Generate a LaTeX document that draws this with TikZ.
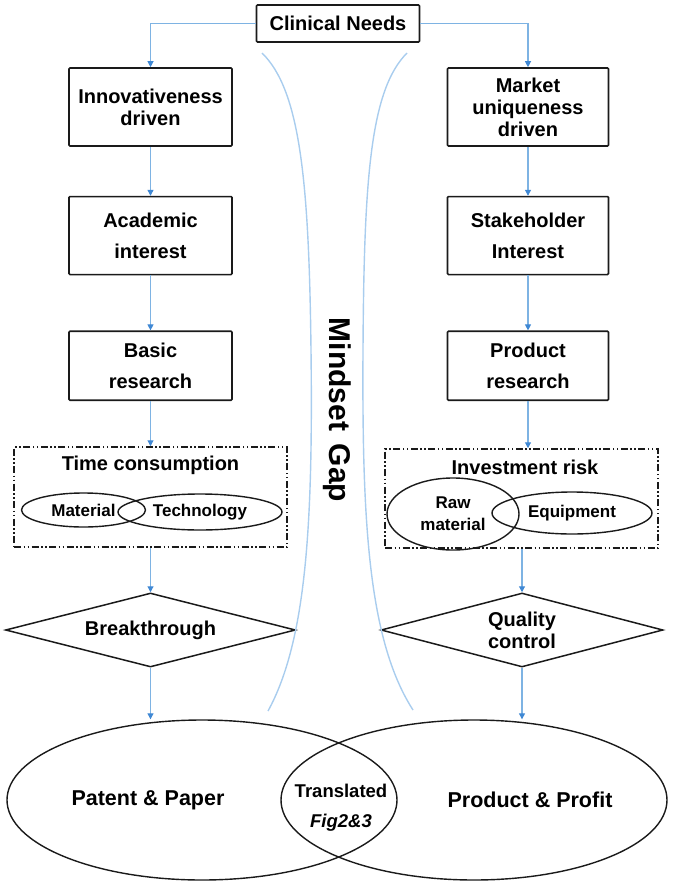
\documentclass[tikz,border=0pt]{standalone}
\usepackage{fontspec}
\setmainfont{Liberation Sans}
\usetikzlibrary{arrows.meta,positioning,shapes.geometric}
\definecolor{flowcol}{HTML}{7EB3E3}
\definecolor{tipcol}{HTML}{3F88D4}
\definecolor{gapcol}{HTML}{A9CDEE}
\definecolor{inkcol}{HTML}{1A1A1A}

\begin{document}
\begin{tikzpicture}[
  x=1pt, y=1pt,
  font=\bfseries\fontsize{20}{22}\selectfont,
  box/.style={draw=inkcol,line width=1.6pt,rounded corners=1pt,
              minimum width=163pt,minimum height=78pt,inner sep=0pt,align=center},
  riskbox/.style={draw=inkcol,line width=1.5pt,
              dash pattern=on 7pt off 2.5pt on 1.5pt off 2.5pt on 1.5pt off 2.5pt,
              minimum width=273pt,minimum height=100pt,inner sep=0pt},
  oval/.style={draw=inkcol,ellipse,line width=1.4pt,inner sep=0pt,align=center,
               font=\bfseries\fontsize{17}{22}\selectfont},
  decision/.style={draw=inkcol,diamond,aspect=4,line width=1.5pt,inner sep=0pt,
               align=center,minimum height=74pt},
  bigoval/.style={draw=inkcol,ellipse,line width=1.4pt,inner sep=0pt,minimum height=160pt},
  bigtxt/.style={font=\bfseries\fontsize{21.5}{24}\selectfont},
  arr/.style={-{Triangle[length=6pt,width=6pt,color=tipcol]},line width=1.1pt,draw=flowcol},
  gap/.style={draw=gapcol,line width=1.4pt},
]
\useasboundingbox (0,0) rectangle (672,-886);

% top
\node[box,minimum height=37pt] (needs) at (338,-23.5) {Clinical Needs};

% academic side
\node[box] (innov) at (150.5,-107) {Innovativeness\\driven};
\node[box,below=49pt of innov] (academic) {Academic\\[9pt]interest};
\node[box,minimum height=69pt,below=55pt of academic] (basic) {Basic\\[9pt]research};
\node[riskbox] (timebox) at (150.5,-497) {};
\node (timelbl) at (150.5,-465) {Time consumption};
\node[oval,minimum width=124pt,minimum height=34pt] (material) at (83.5,-510) {Material};
\node[oval,minimum width=164pt,minimum height=36pt] (technology) at (200,-512) {Technology};
\node[decision,minimum width=290pt] (breakthrough) at (150.5,-630) {Breakthrough};

% industry side
\node[box,minimum width=161pt] (market) at (528,-107) {Market\\uniqueness\\driven};
\node[box,minimum width=161pt,below=49pt of market] (stake) {Stakeholder\\[9pt]Interest};
\node[box,minimum width=161pt,minimum height=69pt,below=55pt of stake] (prodres) {Product\\[9pt]research};
\node[riskbox,minimum height=99pt] (riskbox) at (521.5,-498.5) {};
\node (risklbl) at (525,-467) {Investment risk};
\node[oval,minimum width=132pt,minimum height=72pt] (raw) at (453,-514) {Raw\\material};
\node[oval,minimum width=160pt,minimum height=42pt] (equip) at (572,-513) {Equipment};
\node[decision,minimum width=282pt] (quality) at (522,-630) {Quality\\control};

% outcomes
\node[bigoval,minimum width=390pt] (patent) at (202,-800) {};
\node[bigoval,minimum width=386pt] (product) at (474,-800) {};
\node[bigtxt] (patenttxt) at (148,-800) {Patent \& Paper};
\node[bigtxt] (producttxt) at (530,-800) {Product \& Profit};
\node[align=center,font=\bfseries\fontsize{18.5}{30}\selectfont] (translated) at (341,-808)
  {Translated\\\textit{Fig2\&3}};

% mindset gap
\node[rotate=-90,font=\bfseries\fontsize{30}{30}\selectfont] (gaptxt) at (337,-410)
  {Mindset\hspace{4pt} Gap};
\draw[gap] (262,-53) .. controls (300,-90) and (309,-180) .. (311,-350)
  .. controls (313,-520) and (307,-640) .. (268,-711);
\draw[gap] (407,-53) .. controls (370,-90) and (364,-180) .. (363,-350)
  .. controls (362,-520) and (368,-640) .. (413,-710);

% flows
\draw[arr] (needs.west) -| (innov.north);
\draw[arr] (needs.east) -| (market.north);
\draw[arr] (innov) -- (academic);
\draw[arr] (academic) -- (basic);
\draw[arr] (basic) -- (basic |- timebox.north);
\draw[arr] (timebox) -- (breakthrough);
\draw[arr] (breakthrough) -- (breakthrough |- patent.north);
\draw[arr] (market) -- (stake);
\draw[arr] (stake) -- (prodres);
\draw[arr] (prodres) -- (prodres |- riskbox.north);
\draw[arr] (riskbox.south -| quality) -- (quality);
\draw[arr] (quality) -- (quality |- product.north);
\end{tikzpicture}
\end{document}
